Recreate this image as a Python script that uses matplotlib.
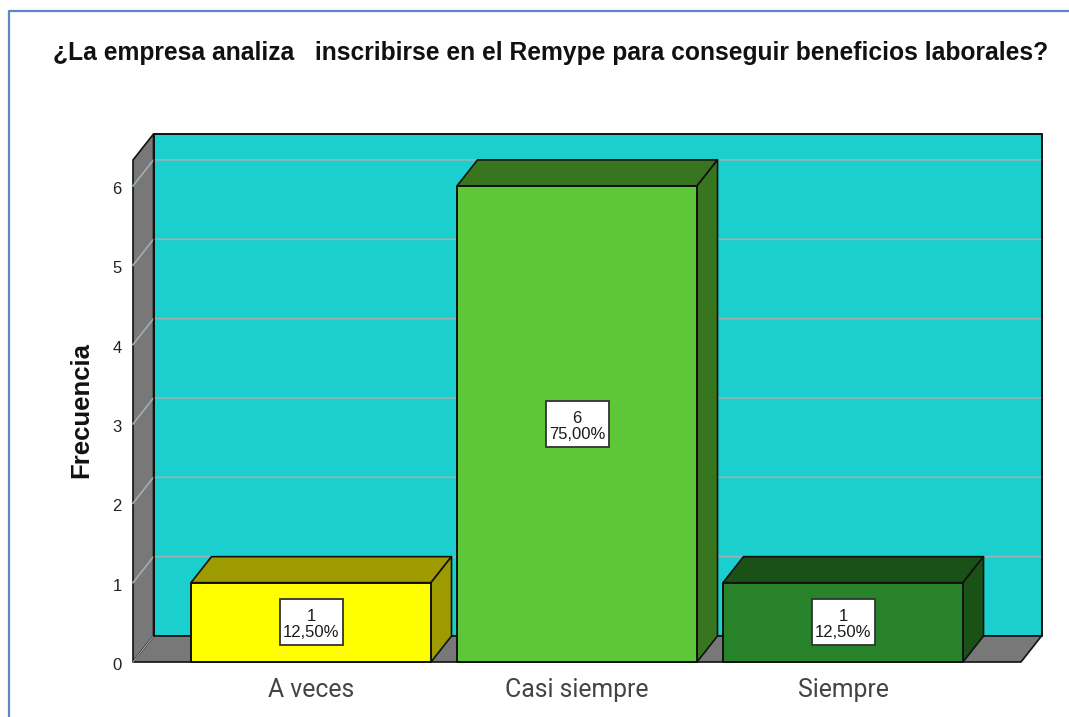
import matplotlib
matplotlib.use("Agg")
import matplotlib.pyplot as plt
from matplotlib.patches import Polygon, Rectangle
from matplotlib.lines import Line2D

categories = ["A veces", "Casi siempre", "Siempre"]
counts = [1, 6, 1]
percents = ["12,50%", "75,00%", "12,50%"]
face_colors = ["#ffff00", "#5ec639", "#27822a"]
shade_colors = ["#9e9b00", "#37761f", "#1a5116"]
y_ticks = [0, 1, 2, 3, 4, 5, 6]
title = "¿La empresa analiza   inscribirse en el Remype para conseguir beneficios laborales?"
y_label = "Frecuencia"

W, H = 1069, 717
fig = plt.figure(figsize=(W / 100, H / 100), dpi=100, facecolor="white")
L, R, B, T = 133, 1021, 662, 160
ax = fig.add_axes([L / W, 1 - B / H, (R - L) / W, (B - T) / H])
x0 = (L - 311) / 266
x1 = (R - 311) / 266
ymax = (B - T) / 79.35
ax.set_xlim(x0, x1)
ax.set_ylim(0, ymax)
dx = 20.5 / 266   # depth offset in x units
dy = 26 / 79.35   # depth offset in y units
bar_w = 240 / 266
box_w = 63 / 266
box_h = 46 / 79.35
edge = "#111111"
wall = "#787878"
back = "#1ccfcf"
grid = "#9fb0b0"


def poly(pts, fc, ec=edge, lw=1.2, z=1):
    ax.add_patch(Polygon(pts, closed=True, facecolor=fc, edgecolor=ec,
                         linewidth=lw, zorder=z, clip_on=False, joinstyle="round"))


# walls
poly([(x0 + dx, dy), (x1 + dx, dy), (x1 + dx, ymax + dy), (x0 + dx, ymax + dy)], back, z=1)
poly([(x0, 0), (x0 + dx, dy), (x0 + dx, ymax + dy), (x0, ymax)], wall, z=1)
poly([(x0, 0), (x1, 0), (x1 + dx, dy), (x0 + dx, dy)], wall, z=1)

# gridlines on back and side wall
for v in y_ticks[1:]:
    ax.plot([x0, x0 + dx, x1 + dx], [v, v + dy, v + dy], color=grid, lw=1.2,
            zorder=2, clip_on=False, solid_joinstyle="miter")
ax.plot([x0, x0 + dx], [0, dy], color=grid, lw=0.8, zorder=2, clip_on=False)

# redraw outline of wall
ax.plot([x0 + dx, x0 + dx, x1 + dx, x1 + dx], [dy, ymax + dy, ymax + dy, dy],
        color=edge, lw=1.2, zorder=2, clip_on=False)

# bars
for i, (c, fc, sc, pct) in enumerate(zip(counts, face_colors, shade_colors, percents)):
    l, r = i - bar_w / 2, i + bar_w / 2
    poly([(l, c), (r, c), (r + dx, c + dy), (l + dx, c + dy)], sc, z=3)
    poly([(r, 0), (r + dx, dy), (r + dx, c + dy), (r, c)], sc, z=3)
    ax.bar(i, c, width=bar_w, color=fc, edgecolor=edge, linewidth=1.4, zorder=4, clip_on=False)
    ax.add_patch(Rectangle((i - box_w / 2, c / 2 - box_h / 2), box_w, box_h, facecolor="white",
                           edgecolor="#333333", linewidth=1.3, zorder=5))
    ax.annotate(f"{c}\n{pct}", (i, c / 2), xytext=(0, -2.5 * 0.72), textcoords="offset points",
                ha="center", va="center", fontsize=12, family="Liberation Sans",
                color="#1a1a1a", linespacing=1.1, zorder=6)

ax.axis("off")

# tick labels
for v in y_ticks:
    ax.annotate(str(v), (x0, v), xytext=(-11.5 * 0.72, -3.5 * 0.72), textcoords="offset points",
                ha="right", va="center", fontsize=12, family="Liberation Sans",
                color="#222222", annotation_clip=False)
for i, cat in enumerate(categories):
    ax.annotate(cat, (i, 0), xytext=(0, -28 * 0.72), textcoords="offset points",
                ha="center", va="center", fontsize=17.8, family="Roboto",
                color="#444444", annotation_clip=False)

fig.text(81.5 / W, 1 - 410 / H, y_label, rotation=90, ha="center", va="center",
         fontsize=18.5, fontweight="bold", family="Liberation Sans", color="#111111")
fig.text(551 / W, 1 - 53 / H, title, ha="center", va="center", fontsize=17.7,
         fontweight="bold", family="Liberation Sans", color="#111111")

# outer frame
blue = "#5b88c8"
fig.add_artist(Line2D([9 / W, 9 / W, 1], [0, 1 - 10.5 / H, 1 - 10.5 / H], color=blue, lw=1.6))

fig.savefig("out.png", dpi=100)
